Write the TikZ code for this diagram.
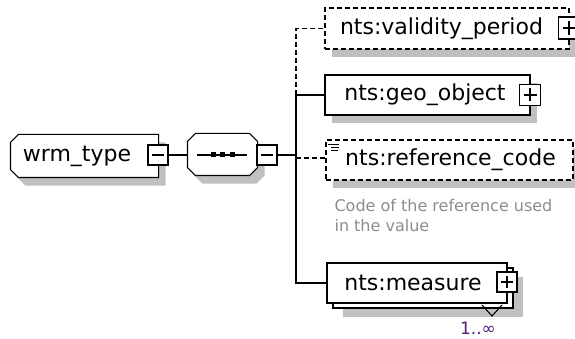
\documentclass[tikz,border=0pt]{standalone}
\usepackage{fontspec}
\setmainfont{DejaVu Sans}
\usetikzlibrary{shadows}
\definecolor{shadowgray}{RGB}{192,192,192}
\definecolor{descgray}{RGB}{140,140,140}
\definecolor{occur}{RGB}{80,30,120}
\begin{document}
\begin{tikzpicture}[x=1pt,y=-1pt,line width=1.1pt,
  shad/.style={drop shadow={shadow xshift=7pt,shadow yshift=-8pt,fill=shadowgray,opacity=1}},
  plainbox/.style={draw,fill=white,rectangle,inner sep=0pt},
  frame/.style={draw=none,rectangle,inner sep=0pt},
  elbox/.style={plainbox,shad},
  dashline/.style={dash pattern=on 5pt off 3pt},
  optbox/.style={elbox,dashline},
  tog/.style={draw,fill=white,rectangle,inner sep=0pt,solid,minimum width=20pt,minimum height=20pt},
  minus/.style={tog,path picture={\draw[line width=1.1pt] ([xshift=4pt]path picture bounding box.west) -- ([xshift=-4pt]path picture bounding box.east);}},
  plus/.style={tog,path picture={\draw[line width=1.1pt] ([xshift=4pt]path picture bounding box.west) -- ([xshift=-4pt]path picture bounding box.east);
      \draw[line width=1.1pt] ([yshift=-4pt]path picture bounding box.north) -- ([yshift=4pt]path picture bounding box.south);}},
  lbl/.style={font=\fontsize{22}{26}\selectfont,inner sep=0pt},
  desc/.style={font=\fontsize{16}{20}\selectfont,text=descgray,align=left,inner sep=0pt},
  occ/.style={font=\fontsize{17}{20}\selectfont,text=occur,inner sep=0pt}
]
\useasboundingbox (0,0) rectangle (575,339);

% wrm_type
\node[frame,minimum width=147pt,minimum height=42pt] (wrm) at (84.5,156) {};
\draw[fill=white,shad] ([xshift=8pt]wrm.north west) -- (wrm.north east) -- (wrm.south east)
   -- ([xshift=8pt]wrm.south west) -- ([yshift=8pt]wrm.south west) -- ([yshift=-8pt]wrm.north west) -- cycle;
\node[lbl] (wrmt) at (77,156) {wrm\_type};
\node[minus] (m1) at (158,155) {};

% sequence
\node[frame,minimum width=69pt,minimum height=41pt] (seq) at (222.5,154.5) {};
\draw[fill=white,shad] ([xshift=8pt]seq.north west) -- ([xshift=-8pt]seq.north east) -- ([yshift=-8pt]seq.north east)
   -- ([yshift=8pt]seq.south east) -- ([xshift=-8pt]seq.south east) -- ([xshift=8pt]seq.south west)
   -- ([yshift=8pt]seq.south west) -- ([yshift=-8pt]seq.north west) -- cycle;
\draw (197,155) -- (247,155);
\fill (210.5,152.5) rectangle (215.5,157.5);
\fill (219.5,152.5) rectangle (224.5,157.5);
\fill (229.5,152.5) rectangle (234.5,157.5);
\node[minus] (m2) at (267,155) {};

% children
\node[optbox,minimum width=244pt,minimum height=41pt] (val) at (447,28.5) {};
\node[lbl] (valt) at (441.5,28.5) {nts:validity\_period};
\node[plus,minimum width=21pt,minimum height=22pt] (valp) at (569,28) {};

\node[elbox,minimum width=205pt,minimum height=40pt] (geo) at (427.5,95) {};
\node[lbl] (geot) at (425,95) {nts:geo\_object};
\node[plus,minimum width=21pt,minimum height=21pt] (geop) at (530,95) {};

\node[optbox,minimum width=247pt,minimum height=40pt] (ref) at (449.5,160) {};
\node[lbl] (reft) at (450.5,160) {nts:reference\_code};
\draw[line width=0.9pt] (328,144) -- (339,144) (331,147) -- (339,147) (331,150) -- (338,150);
\node[desc,anchor=north west] (refd) at (334,199) {Code of the reference used\\in the value};

\node[plainbox,drop shadow={shadow xshift=10pt,shadow yshift=-9pt,fill=shadowgray,opacity=1},
      minimum width=180pt,minimum height=40pt] (measb) at (423,288) {};
\node[plainbox,minimum width=180pt,minimum height=40pt] (meas) at (417,283) {};
\node[lbl] (meast) at (413,283) {nts:measure};
\node[plus] (measp) at (507,282) {};
\draw (482,305) -- (492,316) -- (502,305);
\node[occ] (occt) at (478,328) {1..∞};

% connectors
\coordinate (bus) at (296,155);
\coordinate (jr) at (296,158);
\draw (m1.east) -- (m1.east -| seq.west);
\draw (m2.east) -- (bus);
\draw[dashline] (bus |- geo.west) |- (val.west);
\draw (bus |- geo.west) -- (geo.west);
\draw (bus |- geo.west) |- (meas.west);
\draw[dashline] (jr) -- (jr -| ref.west);
\end{tikzpicture}
\end{document}
